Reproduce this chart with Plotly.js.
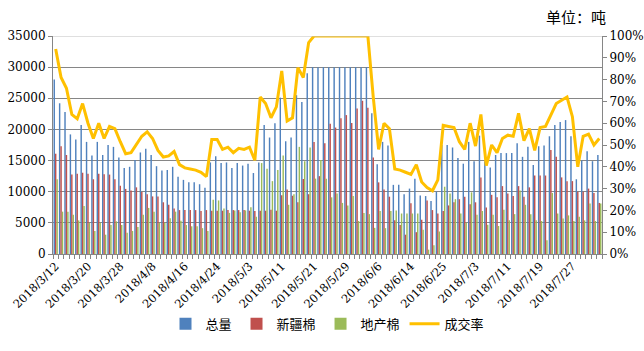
<!DOCTYPE html>
<html><head><meta charset="utf-8">
<script src="https://cdn.plot.ly/plotly-3.0.1.min.js"></script>
<style>html,body{margin:0;padding:0;background:#fff}#chart{width:644px;height:351px}</style>
</head><body><div id="chart"></div>
<script>
const dates = [
"2018/3/12","2018/3/13","2018/3/14","2018/3/15","2018/3/16","2018/3/19","2018/3/20","2018/3/21","2018/3/22","2018/3/23",
"2018/3/26","2018/3/27","2018/3/28","2018/3/29","2018/3/30","2018/4/2","2018/4/3","2018/4/4","2018/4/8","2018/4/9",
"2018/4/10","2018/4/11","2018/4/12","2018/4/13","2018/4/16","2018/4/17","2018/4/18","2018/4/19","2018/4/20","2018/4/23",
"2018/4/24","2018/4/25","2018/4/26","2018/4/27","2018/4/28","2018/5/2","2018/5/3","2018/5/4","2018/5/7","2018/5/8",
"2018/5/9","2018/5/10","2018/5/11","2018/5/14","2018/5/15","2018/5/16","2018/5/17","2018/5/18","2018/5/21","2018/5/22",
"2018/5/23","2018/5/24","2018/5/25","2018/5/28","2018/5/29","2018/5/30","2018/5/31","2018/6/1","2018/6/4","2018/6/5",
"2018/6/6","2018/6/7","2018/6/8","2018/6/11","2018/6/12","2018/6/13","2018/6/14","2018/6/15","2018/6/19","2018/6/20",
"2018/6/21","2018/6/22","2018/6/25","2018/6/26","2018/6/27","2018/6/28","2018/6/29","2018/7/2","2018/7/3","2018/7/4",
"2018/7/5","2018/7/6","2018/7/9","2018/7/10","2018/7/11","2018/7/12","2018/7/13","2018/7/16","2018/7/17","2018/7/18",
"2018/7/19","2018/7/20","2018/7/23","2018/7/24","2018/7/25","2018/7/26","2018/7/27","2018/7/30","2018/7/31","2018/8/1",
"2018/8/2","2018/8/3"];

const total = [
28000,24200,22800,19200,18400,20700,18000,15800,18000,15900,
17500,17200,15500,13800,14000,15100,16300,16900,15900,14100,
13400,13500,14000,12400,11900,11500,11500,11200,10650,14700,
15700,14600,14700,13800,14600,14200,14500,13000,14700,20700,
18700,21000,25100,18100,18700,25500,24400,29000,30000,30000,
30000,30000,30000,30000,30000,30000,30000,30000,30000,22600,
14400,18000,17400,11100,11100,9600,10500,12100,9400,9300,
8500,10000,17500,17500,17100,15400,14500,18000,14900,19000,
14900,13900,15900,16200,16200,16200,17800,15600,17200,14300,
17300,17400,18900,20700,21200,21500,18900,12000,15000,16500,
14900,15900];

const xinjiang = [
16100,17300,15900,12750,12900,13050,12900,12000,12900,12800,
12750,12000,10950,10450,10200,10700,9950,9600,9250,9250,
8300,7900,7300,7050,7050,7050,7050,6900,7050,6950,
6950,6950,7050,7050,7050,7050,6950,6900,6950,6950,
7100,6950,9450,10350,9350,8300,12050,9600,18000,12500,
17800,20900,20300,21800,22300,21050,23350,24600,23500,15500,
11500,10350,9200,5400,4650,3100,8150,3500,5500,8600,
7050,6500,6900,7800,8300,8800,9200,8000,8300,12300,
7450,9500,9100,10900,9700,9300,10900,9200,10700,12600,
12600,12600,16700,15600,12300,11700,11700,10000,10000,10500,
9800,8200];

const local = [
12000,6800,6800,6300,5400,7700,5000,3700,5000,3100,
4650,5250,4650,3400,3700,4350,6300,7400,6800,5000,
5000,5750,6800,5350,4650,4450,4450,4150,3700,8700,
8600,7300,6600,7000,6700,7000,7500,6000,14600,13700,
11700,13500,15800,7900,9600,17200,14900,17100,12100,15100,
12100,9100,9700,8200,7800,9300,5300,6600,6400,4200,
6900,4150,6900,7000,6500,6500,6500,6500,3900,700,
1400,3600,10800,9700,8800,6500,5000,9900,6300,6900,
4700,6300,4500,7100,5400,6400,10200,7900,6400,5400,
5300,2200,9800,6500,5700,6200,5300,6000,5400,8100,
5300,8100];

const rate = [
94,81,76,64,62,69,60,53,60,53,
58.5,57.5,51.5,46,46.5,50,54,56,53,47.5,
44.5,45,47,41,39.5,39,38.5,37.5,35.5,52.5,
52.5,48,49,46.5,48.5,48,49,43,72,69,
62.5,67.5,84,61,62.5,85.5,81,97,100,100,
100,100,100,100,100,100,100,100,100,72,
48,60,57.5,39,38.5,37.5,36.5,41,33,30.5,
29,34,59,58.5,58,51.5,48,60,49.5,64,
40.5,50,46.5,53,54.5,54,64.5,52,57.5,47.5,
58,58.5,64,69,70.5,72,63,40,54,55,
50,53];

const seriesNames = ["总量","新疆棉","地产棉","成交率"];
const labelEvery = 6;
const tickText = dates.map((d,i)=> i % labelEvery === 0 ? d : "");

const serif = "DejaVu Serif, serif";
const cjk = "Noto Sans CJK SC, sans-serif";

const traces = [
  {type:"bar", name:seriesNames[0], x:dates, y:total, marker:{color:"#4F81BD"}},
  {type:"bar", name:seriesNames[1], x:dates, y:xinjiang, marker:{color:"#C0504D"}},
  {type:"bar", name:seriesNames[2], x:dates, y:local, marker:{color:"#9BBB59"}},
  {type:"scatter", mode:"lines", name:seriesNames[3], x:dates, y:rate.map(v=>v/100), yaxis:"y2",
   line:{color:"#FFC000", width:3}}
];

const layout = {
  width:644, height:351,
  margin:{l:53, r:42, t:36, b:87},
  paper_bgcolor:"#fff", plot_bgcolor:"#fff",
  barmode:"group", bargap:0.2, bargroupgap:0,
  showlegend:true,
  legend:{orientation:"h", x:0.5, xanchor:"center", y:-0.32, yanchor:"middle",
          font:{family:cjk, size:13, color:"#000"}, traceorder:"normal"},
  xaxis:{type:"category", tickmode:"array", tickvals:dates, ticktext:tickText,
         tickson:"boundaries", ticks:"outside", ticklen:4, tickcolor:"#868686",
         showline:true, linecolor:"#868686", linewidth:1, showgrid:false,
         tickangle:-45, tickfont:{family:serif, size:11.5, color:"#000"}, automargin:false},
  yaxis:{range:[0,35000], dtick:5000, tick0:0, tickformat:"d", showgrid:true, gridcolor:"#868686", gridwidth:1,
         showline:true, linecolor:"#868686", ticks:"outside", ticklen:4, tickcolor:"#868686",
         zeroline:false, tickfont:{family:serif, size:12, color:"#000"}, automargin:false},
  yaxis2:{overlaying:"y", side:"right", range:[0,1], dtick:0.1, tick0:0, tickformat:".0%",
          showgrid:false, showline:true, linecolor:"#868686", ticks:"outside", ticklen:4,
          tickcolor:"#868686", zeroline:false, tickfont:{family:serif, size:12, color:"#000"}, automargin:false},
  shapes:[{type:"line", xref:"paper", yref:"y", x0:0, x1:1, y0:35000, y1:35000,
           line:{color:"#c0c0c0", width:1}}],
  annotations:[{xref:"paper", yref:"paper", x:0.895, y:1.09, xanchor:"left", yanchor:"middle",
                text:"单位：吨", showarrow:false, font:{family:cjk, size:15, color:"#000"}}]
};

Plotly.newPlot("chart", traces, layout, {displayModeBar:false, staticPlot:true});
</script></body></html>
